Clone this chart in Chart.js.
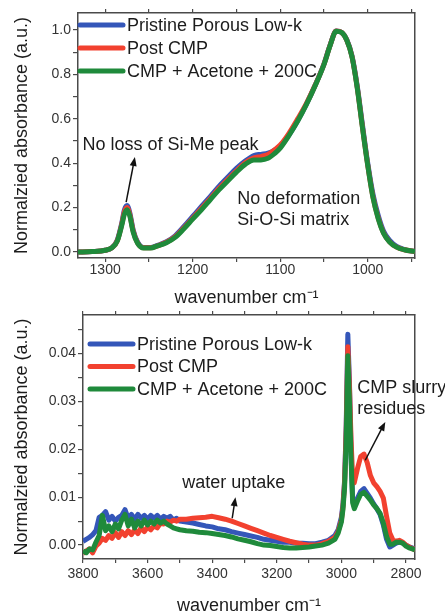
<!DOCTYPE html>
<html>
<head>
<meta charset="utf-8">
<script src="https://cdn.jsdelivr.net/npm/chart.js@4.4.1/dist/chart.umd.min.js"></script>
<style>
  html, body { margin: 0; padding: 0; background: #fff; }
  #wrap { position: relative; width: 445px; height: 614px; overflow: hidden; }
  canvas { position: absolute; left: 0; }
  #topChart { top: 0; }
  #bottomChart { top: 300px; }
</style>
</head>
<body>
<div id="wrap">
  <canvas id="topChart" width="445" height="306"></canvas>
  <canvas id="bottomChart" width="445" height="314"></canvas>
</div>
<script>
///////////////////////////// data /////////////////////////////
const seriesNames = ["Pristine Porous Low-k", "Post CMP", "CMP + Acetone + 200C"];
const seriesColors = ["#3456b9", "#f2412f", "#1f8a3b"];

// top panel: Si-O-Si / Si-Me region
const topWavenumber = [1331, 1315, 1300, 1292, 1286, 1281, 1278, 1275, 1272, 1268, 1263, 1256, 1248, 1240, 1230, 1220, 1210, 1200, 1190, 1180, 1170, 1160, 1150, 1140, 1130, 1122, 1114, 1106, 1100, 1090, 1080, 1070, 1060, 1050, 1043, 1036, 1030, 1024, 1018, 1012, 1006, 1000, 994, 988, 982, 975, 967, 958, 946];
const topPristine = [0.0, 0.002, 0.008, 0.02, 0.055, 0.13, 0.19, 0.21, 0.18, 0.1, 0.045, 0.02, 0.02, 0.03, 0.046, 0.073, 0.115, 0.16, 0.205, 0.25, 0.296, 0.337, 0.377, 0.41, 0.435, 0.44, 0.445, 0.46, 0.477, 0.527, 0.592, 0.667, 0.752, 0.847, 0.932, 0.996, 0.99, 0.957, 0.884, 0.748, 0.572, 0.4, 0.26, 0.165, 0.095, 0.052, 0.025, 0.011, 0.002];
const topPostCmp = [0.0, 0.002, 0.008, 0.02, 0.052, 0.125, 0.18, 0.2, 0.172, 0.095, 0.042, 0.019, 0.019, 0.028, 0.044, 0.069, 0.109, 0.152, 0.196, 0.241, 0.286, 0.327, 0.366, 0.402, 0.424, 0.43, 0.44, 0.462, 0.482, 0.535, 0.6, 0.67, 0.752, 0.846, 0.931, 0.996, 0.99, 0.955, 0.881, 0.742, 0.562, 0.392, 0.248, 0.153, 0.087, 0.046, 0.022, 0.01, 0.002];
const topAcetone = [0.0, 0.002, 0.008, 0.02, 0.05, 0.12, 0.17, 0.19, 0.165, 0.09, 0.04, 0.018, 0.018, 0.028, 0.042, 0.066, 0.105, 0.148, 0.19, 0.235, 0.28, 0.32, 0.36, 0.395, 0.415, 0.415, 0.422, 0.445, 0.468, 0.525, 0.59, 0.665, 0.75, 0.845, 0.93, 0.995, 0.99, 0.955, 0.88, 0.74, 0.56, 0.39, 0.245, 0.15, 0.085, 0.045, 0.022, 0.01, 0.002];

// bottom panel: O-H / C-H region
const bottomWavenumber = [3800, 3790, 3780, 3770, 3760, 3750, 3740, 3730, 3720, 3710, 3700, 3690, 3680, 3670, 3660, 3650, 3640, 3630, 3620, 3610, 3600, 3590, 3580, 3570, 3560, 3550, 3540, 3530, 3520, 3510, 3500, 3480, 3460, 3440, 3420, 3400, 3380, 3360, 3340, 3320, 3300, 3280, 3260, 3240, 3220, 3200, 3180, 3160, 3140, 3120, 3100, 3080, 3060, 3040, 3020, 3010, 3000, 2995, 2990, 2985, 2980, 2975, 2970, 2965, 2960, 2950, 2940, 2930, 2920, 2910, 2900, 2890, 2880, 2870, 2860, 2850, 2840, 2830, 2820, 2810, 2800, 2790, 2780, 2772];
const bottomPristine = [0.0008, 0.0012, 0.0016, 0.0022, 0.003, 0.0058, 0.0062, 0.007, 0.0052, 0.006, 0.005, 0.0058, 0.0062, 0.0074, 0.0056, 0.0064, 0.0054, 0.0064, 0.0056, 0.0062, 0.0054, 0.0062, 0.0056, 0.0062, 0.0054, 0.006, 0.0056, 0.006, 0.0052, 0.0056, 0.005, 0.0048, 0.0046, 0.0043, 0.004, 0.0038, 0.0034, 0.0032, 0.0028, 0.0025, 0.0022, 0.0019, 0.0016, 0.0012, 0.001, 0.0008, 0.0006, 0.0006, 0.0004, 0.0004, 0.0003, 0.0003, 0.0006, 0.001, 0.002, 0.0032, 0.0058, 0.0085, 0.0135, 0.025, 0.044, 0.034, 0.019, 0.0095, 0.008, 0.0098, 0.0112, 0.0118, 0.0108, 0.0098, 0.0086, 0.0076, 0.0064, 0.0042, 0.0012, -0.0004, 0.0, 0.0004, 0.0006, 0.0004, 0.0, -0.0004, -0.0006, -0.0008];
const bottomPostCmp = [-0.0018, -0.0012, -0.0008, -0.0016, -0.0002, 0.0004, 0.0014, 0.001, 0.002, 0.0014, 0.0026, 0.0016, 0.0028, 0.002, 0.003, 0.0022, 0.0032, 0.0024, 0.0036, 0.0028, 0.0038, 0.0032, 0.004, 0.0036, 0.0046, 0.0044, 0.005, 0.0048, 0.0052, 0.005, 0.0054, 0.0054, 0.0056, 0.0057, 0.0058, 0.006, 0.0057, 0.0054, 0.005, 0.0045, 0.004, 0.0035, 0.003, 0.0025, 0.002, 0.0016, 0.0012, 0.0008, 0.0005, 0.0002, 0.0, 0.0, 0.0003, 0.0008, 0.0016, 0.0028, 0.0052, 0.008, 0.013, 0.024, 0.0414, 0.033, 0.022, 0.014, 0.013, 0.016, 0.0185, 0.019, 0.0172, 0.0145, 0.013, 0.0122, 0.0112, 0.0098, 0.006, 0.0025, 0.001, 0.0008, 0.001, 0.0006, 0.0, -0.0004, -0.0008, -0.0008];
const bottomAcetone = [-0.0012, -0.0016, -0.0008, -0.001, 0.0006, 0.002, 0.0062, 0.003, 0.004, 0.0028, 0.0044, 0.0034, 0.0052, 0.0064, 0.004, 0.0054, 0.0036, 0.005, 0.004, 0.0052, 0.0042, 0.005, 0.0044, 0.0052, 0.0046, 0.005, 0.0044, 0.004, 0.0036, 0.0034, 0.0032, 0.003, 0.0029, 0.0027, 0.0026, 0.0024, 0.0022, 0.002, 0.0017, 0.0013, 0.001, 0.0007, 0.0003, 0.0, -0.0001, -0.0003, -0.0005, -0.0006, -0.0006, -0.0005, -0.0004, -0.0002, 0.0, 0.0004, 0.0012, 0.0025, 0.0048, 0.0075, 0.012, 0.022, 0.0395, 0.03, 0.018, 0.0088, 0.0076, 0.0092, 0.0106, 0.011, 0.0102, 0.0094, 0.0084, 0.0076, 0.0066, 0.0046, 0.0018, 0.0002, 0.0002, 0.0006, 0.0006, 0.0004, -0.0002, -0.0006, -0.0008, -0.001];

// annotations (data coordinates)
const topNotes = [
  { text: "No loss of Si-Me peak", x: 1326, y: 0.482 },
  { text: "No deformation", x: 1149, y: 0.239 },
  { text: "Si-O-Si matrix", x: 1149, y: 0.144 }
];
const topArrows = [{ from: [1276, 0.225], to: [1266, 0.428] }];
const bottomNotes = [
  { text: "CMP slurry", x: 2951, y: 0.0328 },
  { text: "residues", x: 2951, y: 0.0284 },
  { text: "water uptake", x: 3493, y: 0.0129 }
];
const bottomArrows = [
  { from: [2926, 0.0177], to: [2864, 0.0257] },
  { from: [3338, 0.0056], to: [3328, 0.0100] }
];

///////////////////////////// plugins /////////////////////////////
Chart.defaults.font.family = "'Liberation Sans', Arial, sans-serif";
const frameColor = "#4a4a4a";
const textColor = "#1c1c1c";

const insideLegend = {
  id: "insideLegend",
  afterDatasetsDraw(chart, args, opts) {
    const ctx = chart.ctx;
    const area = chart.chartArea;
    ctx.save();
    ctx.font = "18px 'Liberation Sans', Arial, sans-serif";
    ctx.textBaseline = "middle";
    chart.data.datasets.forEach((ds, i) => {
      const x = area.left + opts.left;
      const y = area.top + opts.top + i * opts.gap;
      ctx.strokeStyle = ds.borderColor;
      ctx.lineWidth = 5;
      ctx.lineCap = "round";
      ctx.beginPath();
      ctx.moveTo(x, y);
      ctx.lineTo(x + 43, y);
      ctx.stroke();
      ctx.fillStyle = textColor;
      ctx.fillText(ds.label, x + 47, y + 1);
    });
    ctx.restore();
  }
};

const notes = {
  id: "notes",
  afterDatasetsDraw(chart, args, opts) {
    const ctx = chart.ctx;
    const sx = chart.scales.x, sy = chart.scales.y;
    ctx.save();
    ctx.font = "18px 'Liberation Sans', Arial, sans-serif";
    ctx.fillStyle = textColor;
    ctx.textBaseline = "middle";
    opts.notes.forEach(n => ctx.fillText(n.text, sx.getPixelForValue(n.x), sy.getPixelForValue(n.y)));

    ctx.strokeStyle = "#111";
    ctx.fillStyle = "#111";
    ctx.lineWidth = 1.5;
    opts.arrows.forEach(a => {
      const x1 = sx.getPixelForValue(a.from[0]), y1 = sy.getPixelForValue(a.from[1]);
      const x2 = sx.getPixelForValue(a.to[0]), y2 = sy.getPixelForValue(a.to[1]);
      const ang = Math.atan2(y2 - y1, x2 - x1);
      ctx.beginPath();
      ctx.moveTo(x1, y1);
      ctx.lineTo(x2 - 6 * Math.cos(ang), y2 - 6 * Math.sin(ang));
      ctx.stroke();
      ctx.beginPath();
      ctx.moveTo(x2, y2);
      ctx.lineTo(x2 - 9 * Math.cos(ang) + 3.5 * Math.sin(ang), y2 - 9 * Math.sin(ang) - 3.5 * Math.cos(ang));
      ctx.lineTo(x2 - 9 * Math.cos(ang) - 3.5 * Math.sin(ang), y2 - 9 * Math.sin(ang) + 3.5 * Math.cos(ang));
      ctx.closePath();
      ctx.fill();
    });
    ctx.restore();
  }
};

///////////////////////////// chart builder /////////////////////////////
const makeDatasets = function (xs, series, smooth) {
  return series.map((ys, i) => ({
    label: seriesNames[i],
    data: xs.map((x, k) => ({ x: x, y: ys[k] })),
    borderColor: seriesColors[i],
    borderWidth: 5,
    borderJoinStyle: "round",
    pointRadius: 0,
    fill: false,
    order: 3 - i,
    tension: 0,
    cubicInterpolationMode: smooth ? "monotone" : "default"
  }));
};

const makeScales = function (s) {
  const border = { display: true, color: frameColor, width: 1.5 };
  const grid = { display: true, drawOnChartArea: false, drawTicks: true, color: frameColor, lineWidth: 1.2 };
  return {
    x: {
      type: "linear", reverse: true, min: s.xMin, max: s.xMax,
      afterFit: scale => { scale.height = s.xHeight; },
      border: border,
      grid: Object.assign({}, grid, { tickLength: 4 }),
      ticks: {
        stepSize: s.xStep, includeBounds: false, autoSkip: false, maxRotation: 0, maxTicksLimit: 1000,
        padding: s.xPad, color: "#333", font: { size: 14 },
        callback: v => (v % s.xLabelEvery === 0 ? v : "")
      },
      title: { display: true, text: "wavenumber cm⁻¹", color: textColor, font: { size: 18 }, padding: { top: 0, bottom: s.titlePad } }
    },
    x2: {
      type: "linear", position: "top", reverse: true, min: s.xMin, max: s.xMax,
      afterFit: scale => { scale.height = 0; },
      border: border,
      grid: Object.assign({}, grid, { tickLength: 4 }),
      ticks: { stepSize: s.xStep, includeBounds: false, autoSkip: false, maxTicksLimit: 1000, display: false }
    },
    y: {
      type: "linear", min: s.yMin, max: s.yMax,
      afterFit: scale => { scale.width = s.yWidth; },
      border: border,
      grid: Object.assign({}, grid, { tickLength: 5 }),
      ticks: {
        stepSize: s.yStep, includeBounds: false, maxTicksLimit: 1000, padding: 2,
        color: "#333", font: { size: 14 }, callback: s.yLabel
      },
      title: { display: true, text: "Normalzied absorbance (a.u.)", color: textColor, font: { size: 18 }, padding: { top: 11, bottom: 0 } }
    },
    y2: {
      type: "linear", position: "right",
      afterFit: scale => { scale.width = 0; },
      border: border,
      grid: { display: false },
      ticks: { display: false }
    }
  };
};

const makeChart = function (canvasId, xs, series, s, legendPos, noteList, arrowList) {
  return new Chart(document.getElementById(canvasId), {
    type: "line",
    data: { datasets: makeDatasets(xs, series, s.smooth) },
    options: {
      responsive: false,
      animation: false,
      layout: { padding: { top: s.padTop, right: 30, bottom: 0, left: 0 } },
      scales: makeScales(s),
      plugins: {
        legend: { display: false },
        tooltip: { enabled: false },
        insideLegend: legendPos,
        notes: { notes: noteList, arrows: arrowList }
      }
    },
    plugins: [insideLegend, notes]
  });
};

makeChart("topChart", topWavenumber, [topPristine, topPostCmp, topAcetone], {
  xMin: 946, xMax: 1331, xStep: 50, xLabelEvery: 100, xHeight: 48, xPad: 0, titlePad: -3,
  yMin: -0.027, yMax: 1.077, yStep: 0.1, yWidth: 78, padTop: 13, smooth: true,
  yLabel: v => (Math.round(v * 10) % 2 === 0 ? v.toFixed(1) : "")
}, { left: 2, top: 12, gap: 23 }, topNotes, topArrows);

makeChart("bottomChart", bottomWavenumber, [bottomPristine, bottomPostCmp, bottomAcetone], {
  xMin: 2772, xMax: 3800, xStep: 100, xLabelEvery: 200, xHeight: 55, xPad: 3, titlePad: -3,
  yMin: -0.0029, yMax: 0.048, yStep: 0.005, yWidth: 83, padTop: 15, smooth: false,
  yLabel: v => (Math.round(v * 1000) % 10 === 0 ? v.toFixed(2) : "")
}, { left: 7, top: 29, gap: 22.5 }, bottomNotes, bottomArrows);
</script>
</body>
</html>
